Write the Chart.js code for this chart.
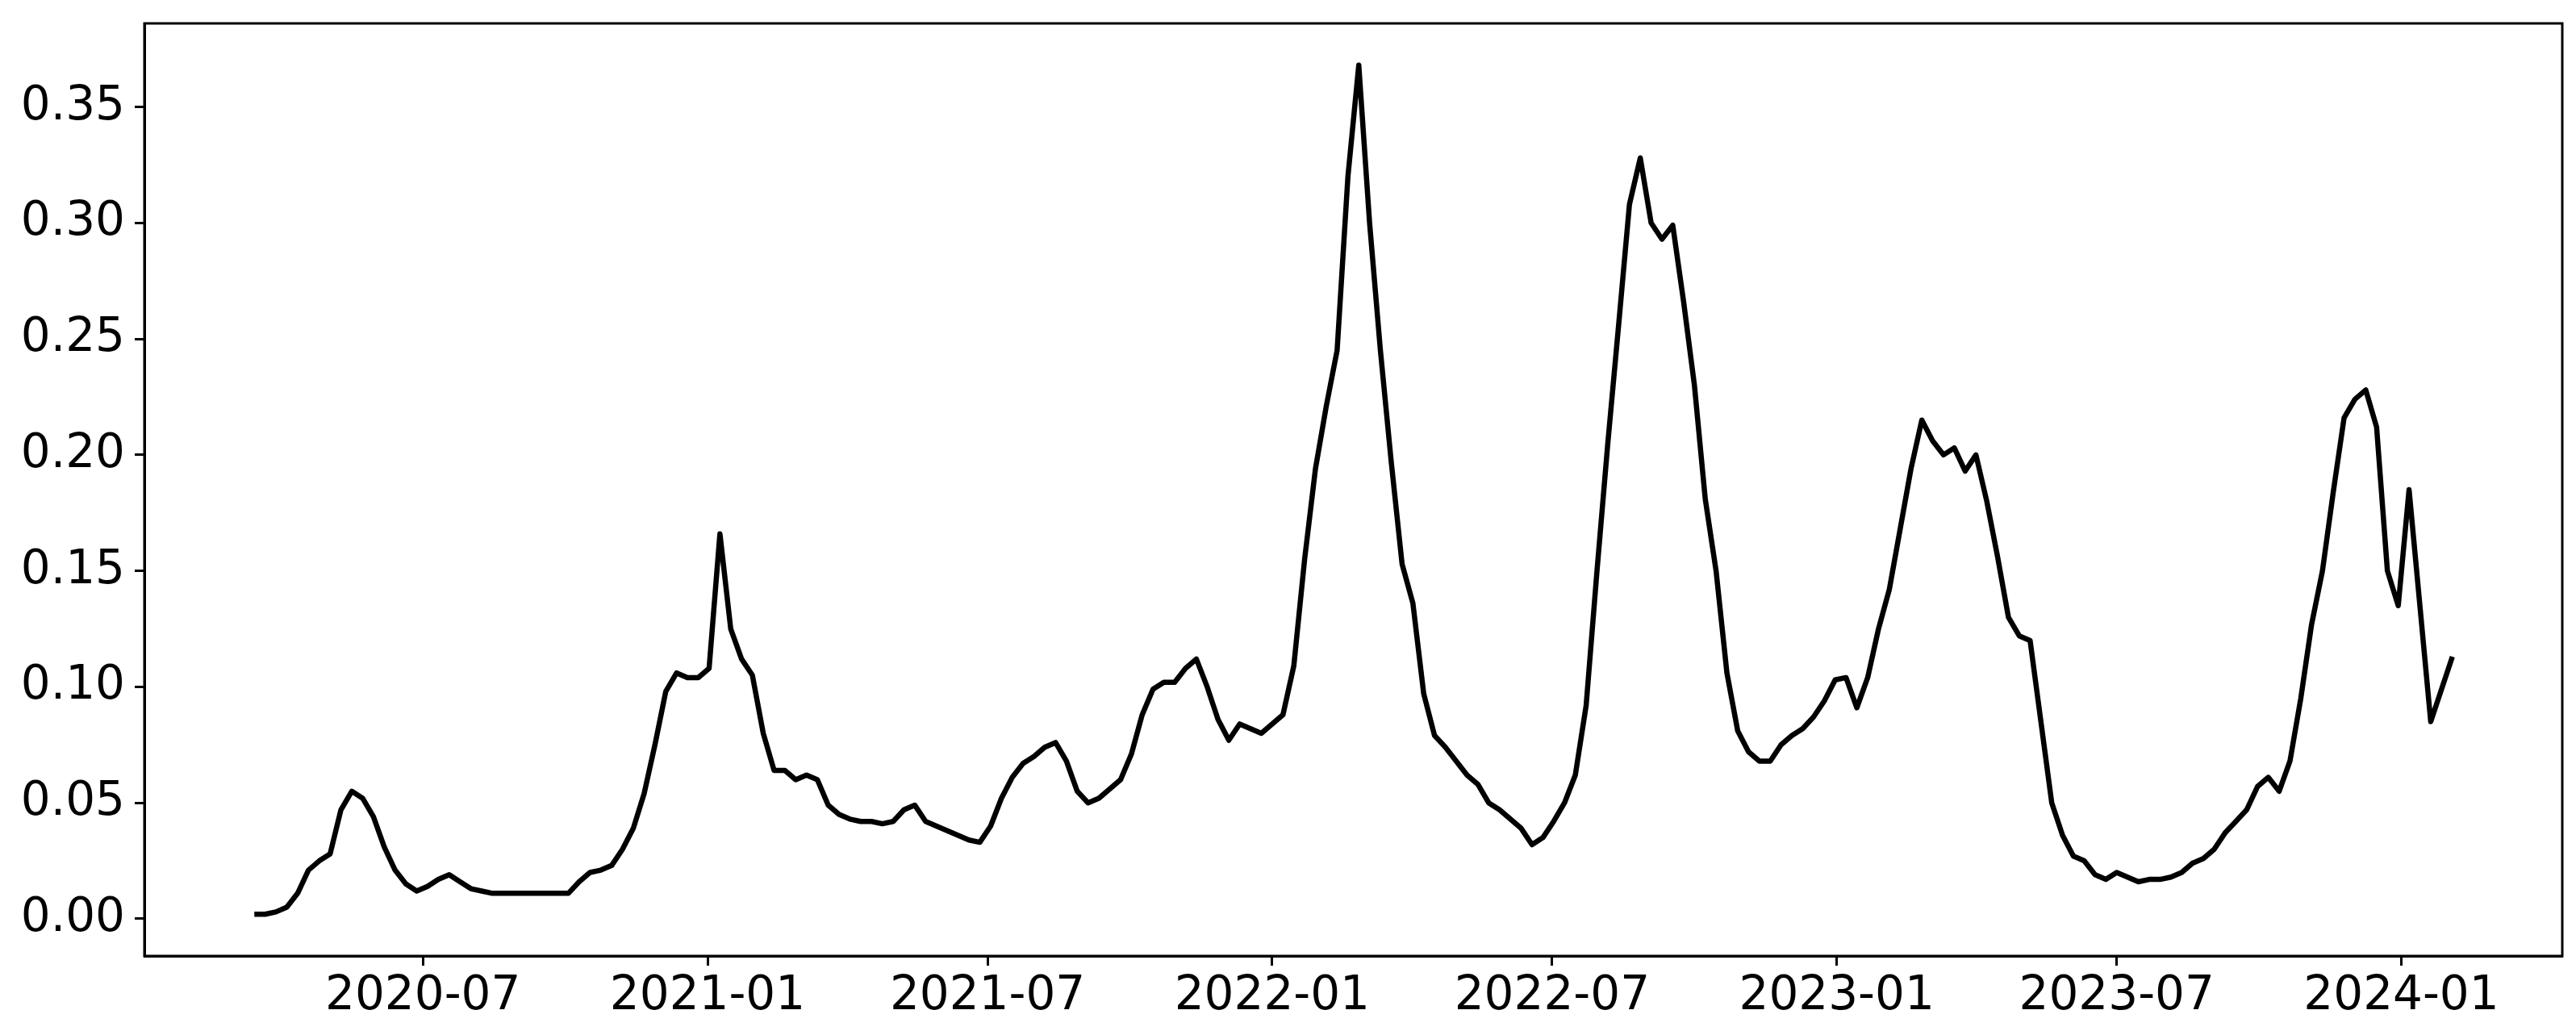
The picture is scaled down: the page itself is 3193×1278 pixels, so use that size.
<!DOCTYPE html>
<html>
<head>
<meta charset="utf-8">
<script src="https://cdn.jsdelivr.net/npm/chart.js@4.4.1/dist/chart.umd.min.js"></script>
<style>
    html, body { margin: 0; padding: 0; background: #ffffff; }
    canvas { display: block; }
</style>
</head>
<body>
<canvas id="rateChart" width="3193" height="1278"></canvas>
<script>
// weekly series, first point on 2020-03-14
const startDate = '2020-03-14';
const stepDays = 7;

const weeklyValues = [
    0.002, 0.002, 0.003, 0.005, 0.011, 0.021, 0.025, 0.028, 0.047, 0.055,
    0.052, 0.044, 0.031, 0.021, 0.015, 0.012, 0.014, 0.017, 0.019, 0.016,
    0.013, 0.012, 0.011, 0.011, 0.011, 0.011, 0.011, 0.011, 0.011, 0.011,
    0.016, 0.020, 0.021, 0.023, 0.030, 0.039, 0.054, 0.075, 0.098, 0.106,
    0.104, 0.104, 0.108, 0.166, 0.125, 0.112, 0.105, 0.080, 0.064, 0.064,
    0.060, 0.062, 0.060, 0.049, 0.045, 0.043, 0.042, 0.042, 0.041, 0.042,
    0.047, 0.049, 0.042, 0.040, 0.038, 0.036, 0.034, 0.033, 0.040, 0.052,
    0.061, 0.067, 0.070, 0.074, 0.076, 0.068, 0.055, 0.050, 0.052, 0.056,
    0.060, 0.071, 0.088, 0.099, 0.102, 0.102, 0.108, 0.112, 0.100, 0.086,
    0.077, 0.084, 0.082, 0.080, 0.084, 0.088, 0.109, 0.155, 0.194, 0.221,
    0.245, 0.320, 0.368, 0.300, 0.245, 0.197, 0.153, 0.136, 0.097, 0.079,
    0.074, 0.068, 0.062, 0.058, 0.050, 0.047, 0.043, 0.039, 0.032, 0.035,
    0.042, 0.050, 0.062, 0.092, 0.150, 0.205, 0.256, 0.308, 0.328, 0.300,
    0.293, 0.299, 0.266, 0.230, 0.181, 0.150, 0.106, 0.081, 0.072, 0.068,
    0.068, 0.075, 0.079, 0.082, 0.087, 0.094, 0.103, 0.104, 0.091, 0.104,
    0.125, 0.142, 0.168, 0.194, 0.215, 0.206, 0.200, 0.203, 0.193, 0.200,
    0.180, 0.156, 0.130, 0.122, 0.120, 0.085, 0.050, 0.036, 0.027, 0.025,
    0.019, 0.017, 0.020, 0.018, 0.016, 0.017, 0.017, 0.018, 0.020, 0.024,
    0.026, 0.030, 0.037, 0.042, 0.047, 0.057, 0.061, 0.055, 0.068, 0.095,
    0.127, 0.150, 0.184, 0.216, 0.224, 0.228, 0.212, 0.150, 0.135, 0.185,
    0.135, 0.085, 0.099, 0.113
];

const xTickLabels = ['2020-07', '2021-01', '2021-07', '2022-01', '2022-07', '2023-01', '2023-07', '2024-01'];
const yTickValues = [0.00, 0.05, 0.10, 0.15, 0.20, 0.25, 0.30, 0.35];

const DAY = 86400000;
const FONT = "'DejaVu Sans', sans-serif";

const t0 = Date.parse(startDate + 'T00:00:00Z');
const points = weeklyValues.map((v, i) => ({x: t0 + i * stepDays * DAY, y: v}));

const tickTimes = xTickLabels.map(l => Date.parse(l + '-01T00:00:00Z'));

// matplotlib style 5% margins on x
const span = points[points.length - 1].x - points[0].x;
const xMin = points[0].x - span * 0.05;
const xMax = points[points.length - 1].x + span * 0.05;


// top and right spines
const frame = {
    id: 'frame',
    afterDraw(chart) {
        const {ctx, chartArea} = chart;
        ctx.save();
        ctx.strokeStyle = '#000';
        ctx.lineWidth = 3;
        ctx.strokeRect(chartArea.left, chartArea.top, chartArea.right - chartArea.left, chartArea.bottom - chartArea.top);
        ctx.restore();
    }
};

function noLabelPadding(scale) {
    scale.paddingTop = 0;
    scale.paddingBottom = 0;
    scale.paddingLeft = 0;
    scale.paddingRight = 0;
}

new Chart(document.getElementById('rateChart'), {
    type: 'line',
    data: {
        datasets: [{
            data: points,
            borderColor: '#000',
            borderWidth: 6.5,
            pointRadius: 0,
            tension: 0,
            fill: false,
            borderJoinStyle: 'round',
        }]
    },
    options: {
        responsive: false,
        animation: false,
        devicePixelRatio: 1,
        layout: {
            padding: {left: 0, top: 29, right: 17, bottom: 0}
        },
        plugins: {
            legend: {display: false},
            tooltip: {enabled: false},
        },
        scales: {
            x: {
                type: 'linear',
                min: xMin,
                max: xMax,
                afterFit(scale) {
                    scale.height = 93;
                    noLabelPadding(scale);
                },
                afterBuildTicks(scale) {
                    scale.ticks = tickTimes.map(t => ({value: t}));
                },
                grid: {
                    drawOnChartArea: false,
                    tickLength: 12,
                    tickWidth: 3,
                    tickColor: '#000',
                },
                border: {display: true, color: '#000', width: 3},
                ticks: {
                    autoSkip: false,
                    maxRotation: 0,
                    padding: 4,
                    color: '#000',
                    font: {family: FONT, size: 58},
                    callback: (value) => {
                        const idx = tickTimes.indexOf(value);
                        return idx >= 0 ? xTickLabels[idx] : '';
                    }
                }
            },
            y: {
                min: -0.016,
                max: 0.386,
                afterFit(scale) {
                    scale.width = 179;
                    noLabelPadding(scale);
                },
                afterBuildTicks(scale) {
                    scale.ticks = yTickValues.map(v => ({value: v}));
                },
                grid: {
                    drawOnChartArea: false,
                    tickLength: 12,
                    tickWidth: 3,
                    tickColor: '#000',
                },
                border: {display: true, color: '#000', width: 3},
                ticks: {
                    padding: 12,
                    color: '#000',
                    font: {family: FONT, size: 58},
                    callback: (value) => value.toFixed(2)
                }
            }
        }
    },
    plugins: [frame],
});
</script>
</body>
</html>
